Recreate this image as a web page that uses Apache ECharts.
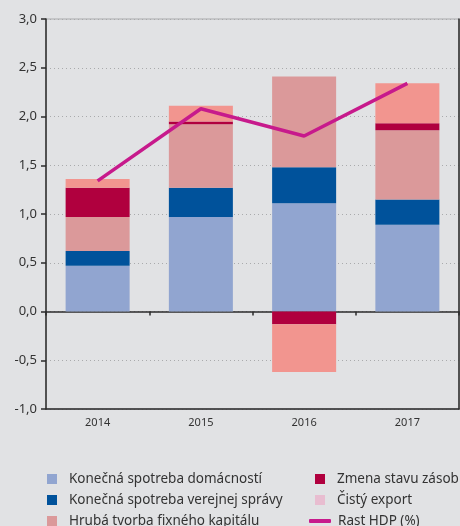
<!DOCTYPE html>
<html>
<head>
<meta charset="utf-8">
<script src="https://cdn.jsdelivr.net/npm/echarts@6/dist/echarts.min.js"></script>
<style>
  html, body { margin: 0; padding: 0; background: #e1e2e4; }
  #main { width: 460px; height: 526px; }
</style>
</head>
<body>
<div id="main"></div>
<script>
var years = ['2014', '2015', '2016', '2017'];
var domacnosti = [0.47, 0.97, 1.11, 0.89];
var verejnaSprava = [0.15, 0.30, 0.37, 0.26];
var fixnyKapital = [0.35, 0.65, 0.93, 0.71];
var zmenaZasob = [0.30, 0.03, -0.13, 0.07];
var cistyExport = [0.09, 0.16, -0.49, 0.41];
var rastHdp = [1.34, 2.08, 1.80, 2.34];

var fontName = 'Noto Sans';
var textColor = '#333333';
var axisColor = '#2b2b2b';

var myChart = echarts.init(document.getElementById('main'));

// jedna polozka legendy = jeden riadok
function legendItem(item, left, top, isLine) {
    return {
        left: left, top: top, padding: 0,
        itemWidth: isLine ? 22 : 10,
        itemHeight: isLine ? 4 : 10,
        icon: isLine ? 'roundRect' : 'rect',
        textStyle: {
            color: textColor, fontFamily: fontName, fontSize: 13.5, lineHeight: 14,
            padding: [0, 0, 0, isLine ? 2 : 7]
        },
        data: [item]
    };
}

var option = {
    backgroundColor: '#e1e2e4',
    animation: false,
    grid: {
        left: 46, right: 1, top: 19, bottom: 117,
        show: true, borderColor: '#a9aaac', borderWidth: 1, backgroundColor: 'transparent'
    },
    legend: [
        legendItem('Konečná spotreba domácností', 47, 472),
        legendItem('Konečná spotreba verejnej správy', 47, 493),
        legendItem('Hrubá tvorba fixného kapitálu', 47, 514),
        legendItem('Zmena stavu zásob', 315, 472),
        legendItem({ name: 'Čistý export', itemStyle: { color: '#e8bdd0' } }, 315, 493),
        legendItem('Rast HDP (%)', 309, 514, true)
    ],
    xAxis: [
        {
            type: 'category',
            data: years,
            axisLine: { onZero: true, lineStyle: { color: axisColor, width: 1.5 } },
            axisTick: { show: true, inside: false, length: 4, lineStyle: { color: axisColor, width: 1.5 } },
            axisLabel: { show: false }
        },
        {
            type: 'category',
            data: years,
            position: 'bottom',
            axisLine: { onZero: false, lineStyle: { color: axisColor, width: 1.5 } },
            axisTick: { show: false },
            axisLabel: { color: textColor, fontFamily: fontName, fontSize: 11, margin: 8 }
        }
    ],
    yAxis: [
        {
            type: 'value',
            min: -1, max: 3, interval: 0.5,
            axisLine: { show: true, onZero: false, lineStyle: { color: axisColor, width: 1.5 } },
            axisTick: { show: true, length: 5, lineStyle: { color: axisColor, width: 1.5 } },
            axisLabel: {
                color: textColor, fontFamily: fontName, fontSize: 13, margin: 9,
                formatter: function (v) { return v.toFixed(1).replace('.', ','); }
            },
            splitLine: { show: true, lineStyle: { color: '#a9aaac', type: [1, 3], width: 1 } }
        },
        {
            type: 'value',
            min: -1, max: 3, interval: 0.5,
            position: 'right',
            axisLine: { show: true, onZero: false, lineStyle: { color: axisColor, width: 1.5 } },
            axisTick: { show: false },
            axisLabel: { show: false },
            splitLine: { show: false }
        }
    ],
    series: [
        { name: 'Konečná spotreba domácností', type: 'bar', stack: 'hdp', barWidth: '62%', data: domacnosti, itemStyle: { color: '#91a5d0' } },
        { name: 'Konečná spotreba verejnej správy', type: 'bar', stack: 'hdp', data: verejnaSprava, itemStyle: { color: '#00529b' } },
        { name: 'Hrubá tvorba fixného kapitálu', type: 'bar', stack: 'hdp', data: fixnyKapital, itemStyle: { color: '#db999a' } },
        { name: 'Zmena stavu zásob', type: 'bar', stack: 'hdp', data: zmenaZasob, itemStyle: { color: '#b0003e' } },
        { name: 'Čistý export', type: 'bar', stack: 'hdp', data: cistyExport, itemStyle: { color: '#f2958f' } },
        {
            name: 'Rast HDP (%)', type: 'line', data: rastHdp, z: 5,
            showSymbol: false, symbol: 'none',
            lineStyle: { color: '#c71a8c', width: 3.5 },
            itemStyle: { color: '#c71a8c' }
        }
    ]
};
myChart.setOption(option);
</script>
</body>
</html>
